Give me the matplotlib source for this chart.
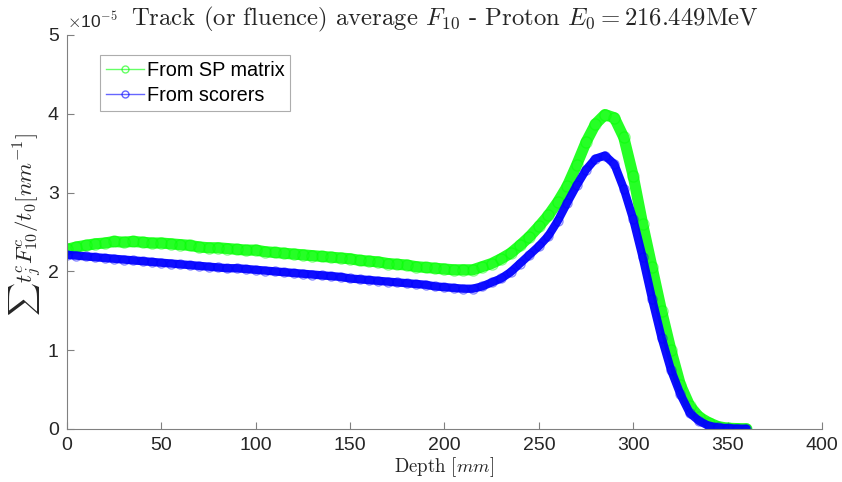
import numpy as np
import matplotlib
matplotlib.use('Agg')
import matplotlib.pyplot as plt
from matplotlib.lines import Line2D

plt.rcParams['font.family'] = ['Liberation Sans', 'DejaVu Sans']
plt.rcParams['mathtext.fontset'] = 'cm'

# depth in mm, values in units of 1e-5 nm^-1
depth = np.arange(0, 365, 5)
f10_sp = [2.28, 2.31, 2.33, 2.35, 2.36, 2.38, 2.37, 2.38, 2.37, 2.36,
          2.36, 2.35, 2.34, 2.33, 2.31, 2.30, 2.30, 2.29, 2.28, 2.27,
          2.27, 2.25, 2.24, 2.23, 2.22, 2.21, 2.20, 2.19, 2.18, 2.17,
          2.16, 2.14, 2.13, 2.12, 2.10, 2.09, 2.08, 2.06, 2.05, 2.04,
          2.03, 2.02, 2.02, 2.02, 2.06, 2.10, 2.16, 2.23, 2.33, 2.44,
          2.57, 2.71, 2.88, 3.08, 3.35, 3.64, 3.87, 3.99, 3.95, 3.70,
          3.21, 2.60, 2.05, 1.50, 1.00, 0.56, 0.29, 0.15, 0.08, 0.03,
          0.01, 0.005, 0.003]
f10_scorers = [2.21, 2.20, 2.19, 2.18, 2.17, 2.16, 2.15, 2.14, 2.13, 2.12,
               2.11, 2.10, 2.09, 2.08, 2.07, 2.06, 2.05, 2.04, 2.04, 2.03,
               2.02, 2.01, 2.00, 1.99, 1.98, 1.97, 1.96, 1.95, 1.94, 1.93,
               1.91, 1.90, 1.89, 1.88, 1.87, 1.86, 1.85, 1.84, 1.83, 1.81,
               1.80, 1.79, 1.78, 1.78, 1.81, 1.86, 1.91, 1.99, 2.10, 2.21,
               2.32, 2.45, 2.64, 2.87, 3.09, 3.29, 3.43, 3.47, 3.36, 3.05,
               2.66, 2.18, 1.65, 1.16, 0.75, 0.44, 0.20, 0.10, 0.04, 0.02,
               0.01, 0.005, 0.003]

green = (0, 1, 0)
blue = (0, 0, 1)
axcol = '#808080'
txtcol = '#262626'

fig = plt.figure(figsize=(8.42, 4.82), dpi=100)
ax = fig.add_axes([0.0796, 0.11, 0.8966, 0.8174])

# thick band + open circle markers, like the dense matlab scatter
ax.plot(depth, f10_sp, '-', color=green, lw=8, alpha=0.85, solid_capstyle='round')
ax.plot(depth, f10_sp, 'o', color=green, mfc='none', ms=8, alpha=0.45)
ax.plot(depth, f10_scorers, '-', color=blue, lw=6, alpha=0.95, solid_capstyle='round')
ax.plot(depth, f10_scorers, 'o', color=blue, mfc='none', ms=6.5, alpha=0.45)

ax.set_xlim(0, 400)
ax.set_ylim(0, 5)
ax.set_xticks(np.arange(0, 401, 50))
ax.set_yticks(np.arange(0, 6, 1))

for s in ['top', 'right']:
    ax.spines[s].set_visible(False)
for s in ['left', 'bottom']:
    ax.spines[s].set_color(axcol)
    ax.spines[s].set_linewidth(0.8)
ax.tick_params(direction='in', length=5, width=0.8, color=axcol,
               labelcolor=txtcol, labelsize=14, pad=6)

ax.set_title(r'Track (or fluence) average $F_{10}$ - Proton $E_0 = 216.449$MeV',
             fontsize=17.8, family='cmr10', color=txtcol, pad=7)
ax.set_xlabel(r'Depth $[mm]$', family='cmr10', fontsize=13.5, color=txtcol, labelpad=1)
ax.set_ylabel(r'$\sum t_j^c F_{10}^c/t_0 [nm^{-1}]$', fontsize=16.5, color=txtcol)
ax.yaxis.set_label_coords(-0.031, 0.52)

ax.text(0.0, 1.01, r'$\times$10$^{\mathsf{-5}}$', transform=ax.transAxes,
        fontsize=12.5, color=txtcol, ha='left', va='bottom')

handles = [Line2D([], [], color=green, lw=1, marker='o', mfc='none', ms=5, alpha=0.6),
           Line2D([], [], color=blue, lw=1, marker='o', mfc='none', ms=5, alpha=0.6)]
leg = ax.legend(handles, ['From SP matrix', 'From scorers'], loc='upper left',
                bbox_to_anchor=(0.0437, 0.949), fontsize=14.3, frameon=True,
                fancybox=False, handlelength=1.9, handletextpad=0.15,
                borderpad=0.3, labelspacing=0.3, borderaxespad=0)
leg.get_frame().set_edgecolor('#999999')
leg.get_frame().set_linewidth(0.8)

fig.savefig('out.png', dpi=100)
